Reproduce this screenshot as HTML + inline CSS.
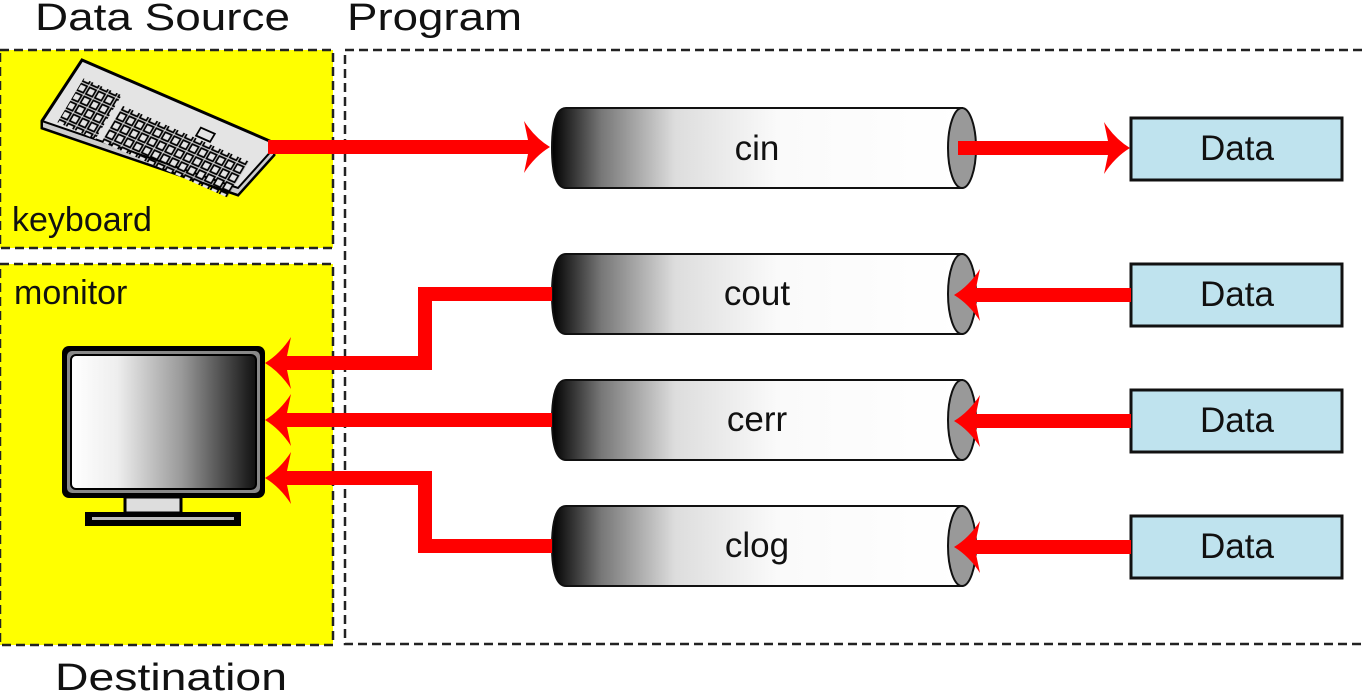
<!DOCTYPE html>
<html><head><meta charset="utf-8"><style>
html,body{margin:0;padding:0;background:#fff;}
svg{display:block;}
text{font-family:"Liberation Sans",sans-serif;fill:#111;}
</style></head><body>
<svg width="1364" height="700" viewBox="0 0 1364 700" xmlns="http://www.w3.org/2000/svg">
<defs>
<linearGradient id="cyl" x1="0" x2="1" y1="0" y2="0">
<stop offset="0" stop-color="#000"/><stop offset="0.12" stop-color="#777"/><stop offset="0.3" stop-color="#ddd"/><stop offset="0.55" stop-color="#fafafa"/><stop offset="1" stop-color="#fff"/>
</linearGradient>
<linearGradient id="scr" x1="0" x2="1" y1="0" y2="0">
<stop offset="0" stop-color="#fff"/><stop offset="0.25" stop-color="#eee"/><stop offset="0.6" stop-color="#999"/><stop offset="1" stop-color="#111"/>
</linearGradient>
<pattern id="keys" width="9" height="9" patternUnits="userSpaceOnUse">
<rect x="1" y="1" width="6.5" height="6.5" fill="#e4e4e4" stroke="#000" stroke-width="1.6"/>
</pattern>
<g id="cyl1">
<path d="M14,-40 L410,-40 L410,40 L14,40 Q0,40 0,0 Q0,-40 14,-40Z" fill="url(#cyl)" stroke="#111" stroke-width="2"/>
<ellipse cx="410" cy="0" rx="14" ry="40" fill="#999" stroke="#111" stroke-width="2"/>
</g>
<path id="ahL" d="M0 0 Q15 -9 26 -26 L22 -7 L22 7 L26 26 Q15 9 0 0Z" fill="#f00"/>
</defs>

<text x="35" y="30" font-size="38" textLength="255" lengthAdjust="spacingAndGlyphs">Data Source</text>
<text x="347" y="30" font-size="38" textLength="175" lengthAdjust="spacingAndGlyphs">Program</text>
<text x="55" y="690" font-size="38" textLength="232" lengthAdjust="spacingAndGlyphs">Destination</text>

<rect x="0" y="50" width="333" height="198" fill="#ff0" stroke="#222" stroke-width="2.5" stroke-dasharray="9,5"/>
<rect x="0" y="264" width="333" height="381" fill="#ff0" stroke="#222" stroke-width="2.5" stroke-dasharray="9,5"/>
<rect x="345" y="50" width="1030" height="594" fill="none" stroke="#222" stroke-width="2.5" stroke-dasharray="9,5"/>

<text x="12" y="231" font-size="34">keyboard</text>
<text x="14" y="304" font-size="34">monitor</text>

<polygon points="82,60 272,142 274,155 238,195 42,128 42,121" fill="#e4e4e4" stroke="#000" stroke-width="3"/>
<polygon points="42,121 238,188 274,148 274,155 238,195 42,128" fill="#ccc" stroke="#000" stroke-width="2"/>
<g transform="matrix(1,0.4415,-0.5968,1,82,60)">
<rect x="10" y="14" width="38" height="44" fill="url(#keys)"/>
<rect x="54" y="22" width="126" height="36" fill="url(#keys)"/>
<rect x="126" y="12" width="14" height="8" fill="#e4e4e4" stroke="#000" stroke-width="1.6"/>
</g>

<rect x="125" y="497" width="56" height="16" fill="#ddd" stroke="#000" stroke-width="3"/>
<rect x="85" y="512" width="156" height="14" fill="#000"/>
<rect x="92" y="517" width="142" height="3" fill="#bbb"/>
<rect x="62" y="346" width="203" height="152" rx="7" fill="#000"/>
<rect x="67" y="351" width="193" height="142" rx="5" fill="#888"/>
<rect x="71" y="355" width="185" height="134" rx="5" fill="url(#scr)" stroke="#000" stroke-width="2"/>

<use href="#cyl1" transform="translate(552,148)"/>
<use href="#cyl1" transform="translate(552,294)"/>
<use href="#cyl1" transform="translate(552,420)"/>
<use href="#cyl1" transform="translate(552,546)"/>
<text x="757" y="160" font-size="35" text-anchor="middle">cin</text>
<text x="757" y="305" font-size="35" text-anchor="middle">cout</text>
<text x="757" y="431" font-size="35" text-anchor="middle">cerr</text>
<text x="757" y="557" font-size="35" text-anchor="middle">clog</text>

<g fill="#bfe3ee" stroke="#111" stroke-width="3">
<rect x="1131" y="118" width="211" height="62"/>
<rect x="1131" y="264" width="211" height="62"/>
<rect x="1131" y="390" width="211" height="62"/>
<rect x="1131" y="516" width="211" height="62"/>
</g>
<g font-size="35" text-anchor="middle">
<text x="1237" y="160">Data</text>
<text x="1237" y="306">Data</text>
<text x="1237" y="432">Data</text>
<text x="1237" y="558">Data</text>
</g>

<g stroke="#f00" stroke-width="14" fill="none">
<line x1="268" y1="147" x2="530" y2="147"/>
<line x1="958" y1="148" x2="1108" y2="148"/>
<line x1="1131" y1="295" x2="975" y2="295"/>
<line x1="1131" y1="421" x2="975" y2="421"/>
<line x1="1131" y1="547" x2="975" y2="547"/>
<polyline points="552,294 425,294 425,363 282,363"/>
<line x1="552" y1="420" x2="282" y2="420"/>
<polyline points="552,546 425,546 425,478 282,478"/>
</g>
<use href="#ahL" transform="translate(550,147) rotate(180)"/>
<use href="#ahL" transform="translate(1130,148) rotate(180)"/>
<use href="#ahL" transform="translate(954,295)"/>
<use href="#ahL" transform="translate(954,421)"/>
<use href="#ahL" transform="translate(954,547)"/>
<use href="#ahL" transform="translate(265,363)"/>
<use href="#ahL" transform="translate(265,420)"/>
<use href="#ahL" transform="translate(265,478)"/>
</svg>
</body></html>
